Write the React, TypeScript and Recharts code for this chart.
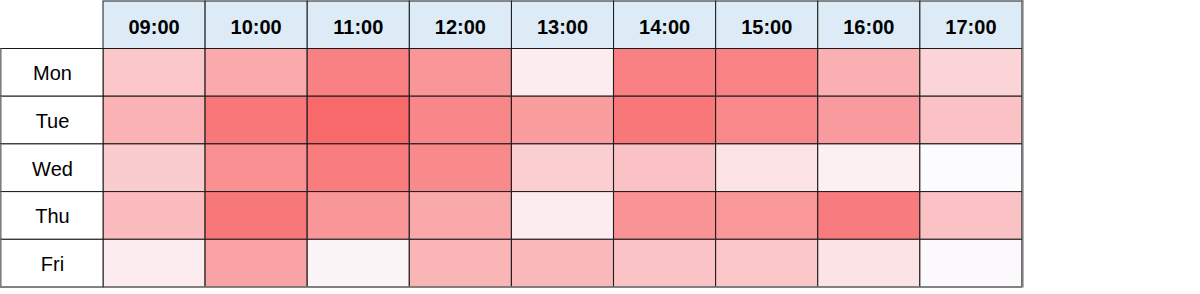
import React from 'react';
import { BarChart, Bar, XAxis, YAxis, Cell, ReferenceLine } from 'recharts';

const hours = ['09:00', '10:00', '11:00', '12:00', '13:00', '14:00', '15:00', '16:00', '17:00'];
const days = ['Mon', 'Tue', 'Wed', 'Thu', 'Fri'];

const mon = [37, 56, 84, 70, 12, 84, 83, 52, 28];
const tue = [51, 90, 100, 80, 65, 90, 79, 66, 40];
const wed = [33, 74, 87, 78, 31, 40, 18, 9, 1];
const thu = [44, 90, 70, 57, 12, 72, 69, 88, 40];
const fri = [12, 61, 6, 49, 47, 39, 37, 18, 3];

const valuesByDay: number[][] = [mon, tue, wed, thu, fri];

// each cell is a unit block in the stack; colour comes from the value arrays
const data = hours.map((hour) => {
  const row: Record<string, string | number> = { hour };
  days.forEach((d) => {
    row[d] = 1;
  });
  return row;
});

const allValues = valuesByDay.flat();
const vMin = Math.min(...allValues);
const vMax = Math.max(...allValues);

const LOW = [252, 252, 255];
const HIGH = [248, 105, 107];
function heat(v: number): string {
  const t = (v - vMin) / (vMax - vMin);
  const c = LOW.map((l, i) => Math.round(l + (HIGH[i] - l) * t));
  return `rgb(${c[0]},${c[1]},${c[2]})`;
}

const W = 1200;
const H = 294;
const MARGIN = { top: 0, right: 178, bottom: 7, left: 0 };
const Y_W = 103;
const X_H = 48.5;
const PLOT_W = W - MARGIN.right - MARGIN.left - Y_W;
const PLOT_H = H - MARGIN.top - MARGIN.bottom - X_H;
const BAND = PLOT_W / hours.length;
const ROW = PLOT_H / days.length;
const FONT = '"Liberation Sans", Arial, sans-serif';
const GRAY = '#7f7f7f';

const HeaderTick = (props: any) => {
  const { x, payload, index } = props;
  const last = index === hours.length - 1;
  return (
    <g>
      <rect x={x - BAND / 2} y={1} width={BAND} height={X_H - 1} fill="#DDEBF7" stroke="#1a1a1a" strokeWidth={1} />
      <text x={x} y={33.5} textAnchor="middle" fontFamily={FONT} fontWeight="bold" fontSize={20} fill="#000">
        {payload.value}
      </text>
      {last && (
        <line x1={x + BAND / 2 + 0.8} x2={x + BAND / 2 + 0.8} y1={0} y2={H - MARGIN.bottom + 0.5} stroke={GRAY} strokeWidth={1.6} />
      )}
    </g>
  );
};

const DayTick = (props: any) => {
  const { y, payload, index } = props;
  const label = days[Math.floor(payload.value)];
  const last = index === days.length - 1;
  return (
    <g>
      <rect x={0.5} y={y - ROW / 2} width={Y_W - 0.5} height={ROW} fill="#fff" stroke="#1a1a1a" strokeWidth={1} />
      <line x1={0.8} x2={0.8} y1={y - ROW / 2} y2={y + ROW / 2} stroke={GRAY} strokeWidth={1.6} />
      <text x={Y_W / 2 + 1} y={y + 8} textAnchor="middle" fontFamily={FONT} fontSize={20} fill="#000">
        {label}
      </text>
      {last && <line x1={0} x2={Y_W} y1={y + ROW / 2 + 0.3} y2={y + ROW / 2 + 0.3} stroke={GRAY} strokeWidth={1.6} />}
    </g>
  );
};

export default function App() {
  return (
    <div style={{ position: 'absolute', left: 0, top: 0, width: W, height: H, background: '#fff' }}>
      <BarChart
        width={W}
        height={H}
        data={data}
        margin={MARGIN}
        barCategoryGap={0}
        barGap={0}
        style={{ overflow: 'hidden' }}
      >
        <XAxis
          dataKey="hour"
          type="category"
          orientation="top"
          height={X_H}
          axisLine={false}
          tickLine={false}
          interval={0}
          tick={<HeaderTick />}
        />
        <YAxis
          type="number"
          domain={[0, days.length]}
          reversed
          width={Y_W}
          ticks={[0.5, 1.5, 2.5, 3.5, 4.5]}
          axisLine={false}
          tickLine={false}
          interval={0}
          tick={<DayTick />}
        />
        {days.map((d, di) => (
          <Bar key={d} dataKey={d} stackId="grid" isAnimationActive={false}>
            {hours.map((h, hi) => (
              <Cell key={h} fill={heat(valuesByDay[di][hi])} stroke="#1a1a1a" strokeWidth={1} />
            ))}
          </Bar>
        ))}
        <ReferenceLine y={days.length} stroke={GRAY} strokeWidth={1.6} />
      </BarChart>
    </div>
  );
}
